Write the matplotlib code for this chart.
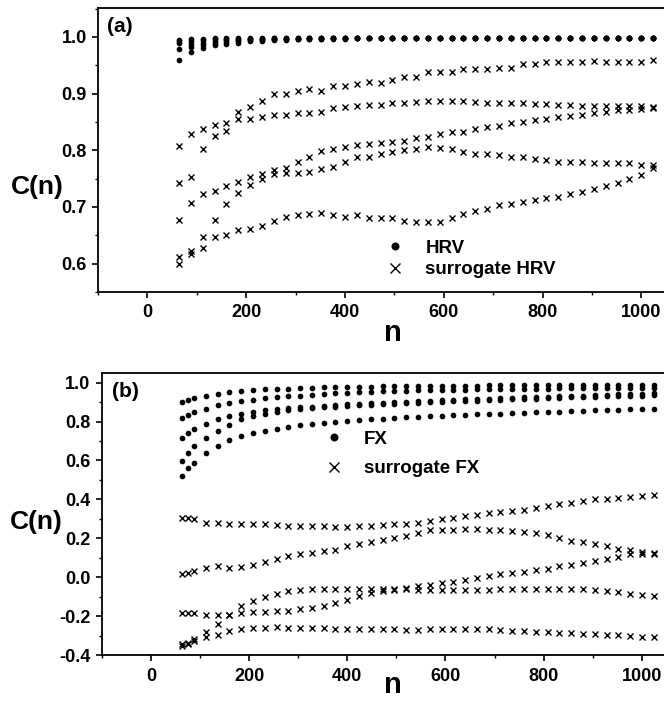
import matplotlib
matplotlib.use("Agg")
import matplotlib.pyplot as plt
from matplotlib.ticker import MultipleLocator, FormatStrFormatter

plt.rcParams['font.family'] = ['Liberation Sans', 'DejaVu Sans']
plt.rcParams['font.weight'] = 'bold'

# ---- panel (a): HRV ----
n_a = [64, 88, 112, 136, 160, 184, 208, 232, 256, 280, 304, 328, 352, 376,
       400, 424, 448, 472, 496, 520, 544, 568, 592, 616, 640, 664, 688, 712,
       736, 760, 784, 808, 832, 856, 880, 904, 928, 952, 976, 1000, 1024]

hrv_1 = [0.995, 0.997, 0.997, 0.998, 0.998, 0.998, 0.998, 0.998, 0.998, 0.998,
         0.998, 0.998, 0.998, 0.998, 0.998, 0.998, 0.998, 0.998, 0.998, 0.998,
         0.998, 0.998, 0.998, 0.998, 0.998, 0.998, 0.998, 0.998, 0.998, 0.998,
         0.998, 0.998, 0.998, 0.998, 0.998, 0.998, 0.998, 0.998, 0.998, 0.998, 0.998]
hrv_2 = [0.992, 0.993, 0.994, 0.996, 0.996, 0.997, 0.997, 0.997, 0.998, 0.998,
         0.998, 0.998, 0.998, 0.998, 0.998, 0.998, 0.998, 0.998, 0.998, 0.998,
         0.998, 0.998, 0.998, 0.998, 0.998, 0.998, 0.998, 0.998, 0.998, 0.998,
         0.998, 0.998, 0.998, 0.998, 0.998, 0.998, 0.998, 0.998, 0.998, 0.998, 0.998]
hrv_3 = [0.989, 0.988, 0.990, 0.993, 0.994, 0.995, 0.996, 0.996, 0.997, 0.997,
         0.997, 0.998, 0.998, 0.998, 0.998, 0.998, 0.998, 0.998, 0.998, 0.998,
         0.998, 0.998, 0.998, 0.998, 0.998, 0.998, 0.998, 0.998, 0.998, 0.998,
         0.998, 0.998, 0.998, 0.998, 0.998, 0.998, 0.998, 0.998, 0.998, 0.998, 0.998]
hrv_4 = [0.978, 0.982, 0.986, 0.990, 0.991, 0.993, 0.994, 0.995, 0.996, 0.996,
         0.997, 0.997, 0.997, 0.998, 0.998, 0.998, 0.998, 0.998, 0.998, 0.998,
         0.998, 0.998, 0.998, 0.998, 0.998, 0.998, 0.998, 0.998, 0.998, 0.998,
         0.998, 0.998, 0.998, 0.998, 0.998, 0.998, 0.998, 0.998, 0.998, 0.998, 0.998]
hrv_5 = [0.959, 0.974, 0.981, 0.986, 0.988, 0.990, 0.992, 0.993, 0.994, 0.995,
         0.996, 0.996, 0.997, 0.997, 0.997, 0.998, 0.998, 0.998, 0.998, 0.998,
         0.998, 0.998, 0.998, 0.998, 0.998, 0.998, 0.998, 0.998, 0.998, 0.998,
         0.998, 0.998, 0.998, 0.998, 0.998, 0.998, 0.998, 0.998, 0.998, 0.998, 0.998]

sur_hrv_1 = [0.808, 0.828, 0.838, 0.844, 0.848, 0.868, 0.877, 0.887, 0.899, 0.899,
             0.904, 0.908, 0.904, 0.913, 0.913, 0.917, 0.921, 0.919, 0.924, 0.929,
             0.930, 0.938, 0.938, 0.938, 0.943, 0.943, 0.943, 0.945, 0.946, 0.952,
             0.952, 0.955, 0.956, 0.956, 0.956, 0.957, 0.956, 0.956, 0.956, 0.956, 0.959]
sur_hrv_2 = [0.742, 0.753, 0.802, 0.825, 0.834, 0.856, 0.856, 0.858, 0.862, 0.863,
             0.865, 0.866, 0.868, 0.874, 0.876, 0.878, 0.879, 0.880, 0.883, 0.883,
             0.886, 0.887, 0.887, 0.887, 0.887, 0.886, 0.884, 0.883, 0.883, 0.883,
             0.881, 0.881, 0.880, 0.880, 0.878, 0.878, 0.878, 0.878, 0.878, 0.878, 0.877]
sur_hrv_3 = [0.677, 0.707, 0.722, 0.729, 0.737, 0.744, 0.752, 0.759, 0.765, 0.769,
             0.779, 0.789, 0.799, 0.803, 0.806, 0.809, 0.811, 0.812, 0.814, 0.816,
             0.821, 0.824, 0.829, 0.832, 0.832, 0.838, 0.841, 0.842, 0.848, 0.850,
             0.853, 0.856, 0.859, 0.861, 0.862, 0.865, 0.867, 0.871, 0.871, 0.872, 0.874]
sur_hrv_4 = [0.611, 0.623, 0.647, 0.677, 0.706, 0.724, 0.739, 0.750, 0.759, 0.760,
             0.760, 0.762, 0.767, 0.770, 0.779, 0.788, 0.789, 0.794, 0.797, 0.800,
             0.803, 0.806, 0.804, 0.803, 0.797, 0.794, 0.793, 0.791, 0.789, 0.788,
             0.784, 0.782, 0.780, 0.779, 0.779, 0.778, 0.778, 0.777, 0.777, 0.774, 0.774]
sur_hrv_5 = [0.600, 0.617, 0.628, 0.647, 0.651, 0.660, 0.661, 0.666, 0.675, 0.683,
             0.685, 0.687, 0.690, 0.685, 0.683, 0.685, 0.681, 0.680, 0.680, 0.676,
             0.674, 0.674, 0.674, 0.680, 0.688, 0.692, 0.697, 0.703, 0.706, 0.709,
             0.712, 0.715, 0.718, 0.722, 0.726, 0.731, 0.737, 0.742, 0.749, 0.756, 0.768]

# ---- panel (b): FX ----
n_b = [64, 76, 88, 112, 136, 160, 184, 208, 232, 256, 280, 304, 328, 352,
       376, 400, 424, 448, 472, 496, 520, 544, 568, 592, 616, 640, 664, 688,
       712, 736, 760, 784, 808, 832, 856, 880, 904, 928, 952, 976, 1000, 1024]

fx_1 = [0.900, 0.910, 0.919, 0.934, 0.944, 0.953, 0.958, 0.962, 0.965, 0.968,
        0.970, 0.972, 0.974, 0.976, 0.977, 0.978, 0.979, 0.980, 0.981, 0.982,
        0.982, 0.983, 0.983, 0.984, 0.984, 0.985, 0.985, 0.986, 0.986, 0.986,
        0.987, 0.987, 0.987, 0.988, 0.988, 0.988, 0.989, 0.989, 0.989, 0.990, 0.990, 0.990]
fx_2 = [0.820, 0.836, 0.850, 0.866, 0.883, 0.893, 0.905, 0.910, 0.919, 0.926,
        0.931, 0.934, 0.939, 0.943, 0.946, 0.949, 0.951, 0.953, 0.955, 0.957,
        0.958, 0.960, 0.961, 0.962, 0.963, 0.964, 0.965, 0.966, 0.967, 0.968,
        0.969, 0.969, 0.970, 0.971, 0.971, 0.972, 0.973, 0.973, 0.974, 0.974, 0.975, 0.975]
fx_3 = [0.717, 0.742, 0.760, 0.790, 0.814, 0.827, 0.839, 0.851, 0.860, 0.863,
        0.868, 0.873, 0.876, 0.880, 0.884, 0.888, 0.891, 0.894, 0.897, 0.900,
        0.903, 0.905, 0.908, 0.910, 0.912, 0.914, 0.916, 0.918, 0.920, 0.922,
        0.924, 0.926, 0.928, 0.930, 0.932, 0.934, 0.936, 0.938, 0.940, 0.942, 0.944, 0.945]
fx_4 = [0.597, 0.640, 0.674, 0.717, 0.754, 0.780, 0.814, 0.827, 0.839, 0.851,
        0.860, 0.865, 0.870, 0.873, 0.877, 0.880, 0.883, 0.886, 0.889, 0.892,
        0.895, 0.897, 0.900, 0.902, 0.904, 0.906, 0.908, 0.910, 0.912, 0.914,
        0.916, 0.918, 0.920, 0.922, 0.924, 0.926, 0.928, 0.930, 0.931, 0.932, 0.934, 0.935]
fx_5 = [0.519, 0.563, 0.589, 0.640, 0.674, 0.703, 0.725, 0.740, 0.751, 0.763,
        0.772, 0.780, 0.789, 0.794, 0.800, 0.804, 0.808, 0.812, 0.815, 0.818,
        0.821, 0.824, 0.827, 0.830, 0.832, 0.835, 0.837, 0.839, 0.841, 0.843,
        0.845, 0.847, 0.849, 0.851, 0.853, 0.855, 0.857, 0.859, 0.861, 0.863, 0.864, 0.866]

sur_fx_1 = [0.305, 0.302, 0.300, 0.280, 0.278, 0.276, 0.274, 0.272, 0.272, 0.266,
            0.265, 0.264, 0.263, 0.262, 0.259, 0.259, 0.262, 0.264, 0.266, 0.271,
            0.274, 0.280, 0.288, 0.297, 0.305, 0.314, 0.322, 0.328, 0.334, 0.342,
            0.348, 0.357, 0.366, 0.374, 0.384, 0.391, 0.400, 0.403, 0.408, 0.410, 0.416, 0.425]
sur_fx_2 = [0.014, 0.020, 0.030, 0.048, 0.057, 0.048, 0.050, 0.065, 0.077, 0.094,
            0.108, 0.117, 0.125, 0.134, 0.142, 0.159, 0.173, 0.180, 0.190, 0.202,
            0.211, 0.225, 0.242, 0.245, 0.245, 0.248, 0.248, 0.245, 0.242, 0.237,
            0.233, 0.225, 0.219, 0.202, 0.185, 0.179, 0.173, 0.163, 0.146, 0.139, 0.129, 0.122]
sur_fx_3 = [-0.183, -0.183, -0.185, -0.192, -0.192, -0.195, -0.150, -0.123, -0.101, -0.085,
            -0.072, -0.065, -0.062, -0.062, -0.058, -0.058, -0.058, -0.058, -0.058, -0.058,
            -0.055, -0.046, -0.038, -0.032, -0.026, -0.012, -0.003, 0.006, 0.014, 0.023,
            0.028, 0.036, 0.043, 0.057, 0.065, 0.074, 0.082, 0.095, 0.105, 0.117, 0.120, 0.117]
sur_fx_4 = [-0.345, -0.336, -0.318, -0.283, -0.238, -0.192, -0.183, -0.180, -0.178, -0.175,
            -0.172, -0.165, -0.158, -0.148, -0.132, -0.115, -0.098, -0.080, -0.072, -0.065,
            -0.063, -0.064, -0.065, -0.066, -0.066, -0.065, -0.064, -0.064, -0.063, -0.063,
            -0.062, -0.062, -0.062, -0.062, -0.061, -0.060, -0.065, -0.070, -0.078, -0.085, -0.090, -0.098]
sur_fx_5 = [-0.352, -0.343, -0.330, -0.307, -0.295, -0.278, -0.268, -0.263, -0.260, -0.258,
            -0.260, -0.260, -0.262, -0.263, -0.266, -0.266, -0.267, -0.268, -0.268, -0.268,
            -0.269, -0.269, -0.268, -0.268, -0.266, -0.265, -0.264, -0.268, -0.272, -0.275,
            -0.278, -0.280, -0.282, -0.285, -0.287, -0.290, -0.293, -0.296, -0.299, -0.302, -0.305, -0.308]

fig = plt.figure(figsize=(6.64, 7.07), dpi=100)
ax1 = fig.add_axes([0.1476, 0.587, 0.8524, 0.4017])
ax2 = fig.add_axes([0.1532, 0.0735, 0.8468, 0.399])

dot_kw = dict(linestyle='none', marker='o', color='black', markersize=4.1,
              markeredgewidth=0)
x_kw = dict(linestyle='none', marker='x', color='black', markersize=4.9,
            markeredgewidth=1.0)

# panel (a)
for i, s in enumerate([hrv_1, hrv_2, hrv_3, hrv_4, hrv_5]):
    ax1.plot(n_a, s, label='HRV' if i == 0 else None, **dot_kw)
for i, s in enumerate([sur_hrv_1, sur_hrv_2, sur_hrv_3, sur_hrv_4, sur_hrv_5]):
    ax1.plot(n_a, s, label='surrogate HRV' if i == 0 else None, **x_kw)

# panel (b)
for i, s in enumerate([fx_1, fx_2, fx_3, fx_4, fx_5]):
    ax2.plot(n_b, s, label='FX' if i == 0 else None, **dot_kw)
for i, s in enumerate([sur_fx_1, sur_fx_2, sur_fx_3, sur_fx_4, sur_fx_5]):
    ax2.plot(n_b, s, label='surrogate FX' if i == 0 else None, **x_kw)

ax1.set_xlim(-100, 1046)
ax1.set_ylim(0.55, 1.051)
ax1.yaxis.set_major_locator(MultipleLocator(0.1))
ax1.yaxis.set_minor_locator(MultipleLocator(0.05))

ax2.set_xlim(-100, 1045)
ax2.set_ylim(-0.4, 1.05)
ax2.yaxis.set_major_locator(MultipleLocator(0.2))
ax2.yaxis.set_minor_locator(MultipleLocator(0.1))

for ax in (ax1, ax2):
    ax.xaxis.set_major_locator(MultipleLocator(200))
    ax.xaxis.set_minor_locator(MultipleLocator(100))
    ax.yaxis.set_major_formatter(FormatStrFormatter('%.1f'))
    ax.tick_params(which='major', direction='out', length=4, width=1.2,
                   labelsize=13, pad=4)
    ax.tick_params(which='minor', direction='out', length=2.5, width=1.0)
    ax.tick_params(axis='x', which='major', pad=5)
    ax.spines['right'].set_visible(False)
    for sp in ('left', 'bottom', 'top'):
        ax.spines[sp].set_linewidth(1.3)

ax1.set_ylabel('C(n)', fontsize=19, fontweight='bold', rotation=0,
               ha='center', va='center')
ax1.yaxis.set_label_coords(-0.108, 0.37)
ax2.set_ylabel('C(n)', fontsize=19, fontweight='bold', rotation=0,
               ha='center', va='center')
ax2.yaxis.set_label_coords(-0.117, 0.472)

ax1.set_xlabel('n', fontsize=21, fontweight='bold', va='center')
ax1.xaxis.set_label_coords(0.521, -0.144)
ax2.set_xlabel('n', fontsize=21, fontweight='bold', va='center')
ax2.xaxis.set_label_coords(0.517, -0.106)

ax1.text(0.016, 0.967, '(a)', transform=ax1.transAxes, fontsize=15,
         fontweight='bold', ha='left', va='top')
ax2.text(0.018, 0.967, '(b)', transform=ax2.transAxes, fontsize=15,
         fontweight='bold', ha='left', va='top')

leg_kw = dict(frameon=False, loc='upper left', handlelength=1.0,
              handletextpad=1.1, borderpad=0, borderaxespad=0,
              markerscale=1.4, prop={'weight': 'bold', 'size': 13.5})
ax1.legend(bbox_to_anchor=(0.509, 0.185), labelspacing=0.25, **leg_kw)
ax2.legend(bbox_to_anchor=(0.3956, 0.795), labelspacing=0.65, **leg_kw)

fig.savefig('out.png', dpi=100)
